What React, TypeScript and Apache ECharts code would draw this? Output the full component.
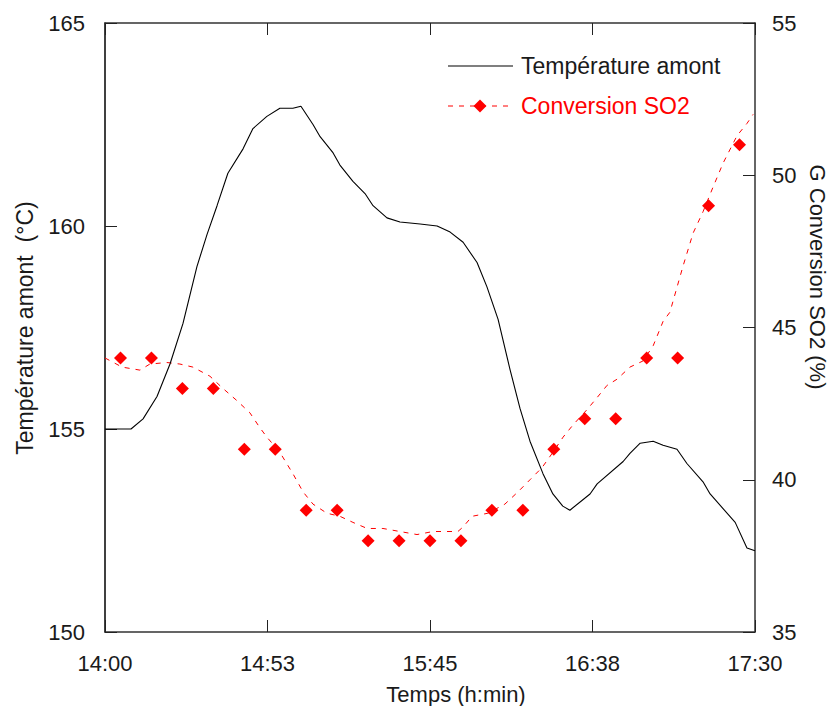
import React, { useEffect, useRef } from "react";
import * as echarts from "echarts";

// X axis: minutes after 14:00
const xMin = 0;
const xMax = 210;
const xInterval = 52.5;
const xStartHour = 14;

// Température amont (°C), left axis
const tempTime = [0, 8.4, 12.3, 16.8, 21.0, 25.2, 29.7, 33.0, 36.2, 39.7, 44.6, 47.8, 52.3, 56.5, 60.7, 63.3, 67.2, 69.5, 73.7, 75.9, 80.1, 84.0, 86.6, 91.1, 95.3, 101.8, 107.3, 111.5, 115.7, 120.2, 123.4, 127.0, 130.9, 134.1, 137.3, 141.5, 144.7, 147.9, 150.2, 156.7, 159.0, 167.4, 169.6, 172.9, 177.1, 180.3, 184.8, 188.0, 193.2, 195.5, 203.6, 207.4, 210];
const tempValue = [155.0, 155.0, 155.25, 155.8, 156.6, 157.6, 159.0, 159.8, 160.5, 161.3, 161.9, 162.4, 162.7, 162.9, 162.9, 162.95, 162.5, 162.2, 161.8, 161.5, 161.1, 160.8, 160.5, 160.2, 160.1, 160.05, 160.0, 159.85, 159.6, 159.1, 158.5, 157.7, 156.45, 155.5, 154.7, 153.9, 153.4, 153.1, 153.0, 153.4, 153.65, 154.2, 154.4, 154.65, 154.7, 154.6, 154.5, 154.15, 153.7, 153.4, 152.7, 152.07, 152.0];

// Conversion SO2 (%) smoothed curve, right axis
const convCurveTime = [0, 5.5, 11.3, 14.5, 20.0, 24.2, 28.4, 33.9, 38.1, 42.6, 46.8, 50.1, 52.3, 56.5, 60.7, 64.0, 67.2, 71.7, 75.9, 80.1, 84.7, 89.8, 95.3, 100.8, 106.0, 110.5, 114.0, 115.7, 118.6, 123.7, 129.2, 133.4, 137.3, 141.2, 144.7, 148.0, 151.2, 155.7, 159.0, 162.2, 165.4, 169.6, 173.8, 177.1, 180.3, 182.5, 186.7, 190.0, 193.2, 196.4, 199.7, 204.2, 207.4, 209.4];
const convCurveValue = [44.0, 43.7, 43.6, 43.8, 43.85, 43.8, 43.7, 43.4, 43.0, 42.6, 42.2, 41.7, 41.4, 40.9, 40.2, 39.6, 39.2, 38.9, 38.8, 38.6, 38.4, 38.4, 38.3, 38.2, 38.3, 38.3, 38.3, 38.45, 38.8, 38.9, 39.2, 39.6, 40.0, 40.4, 40.9, 41.4, 41.8, 42.3, 42.7, 43.1, 43.3, 43.7, 43.9, 44.4, 45.2, 45.5, 47.0, 48.1, 48.8, 49.6, 50.4, 51.3, 51.7, 52.0];

// Conversion SO2 (%) measured points
const convPointTime = [5, 15, 25, 35, 45, 55, 65, 75, 85, 95, 105, 115, 125, 135, 145, 155, 165, 175, 185, 195, 205];
const convPointValue = [44, 44, 43, 43, 41, 41, 39, 39, 38, 38, 38, 38, 39, 39, 41, 42, 42, 44, 44, 49, 51];

const FONT = "'Liberation Sans', Arial, sans-serif";
const TXT = "#1a1a1a";

function fmtTime(v: number): string {
  const m = Math.round(v);
  const h = xStartHour + Math.floor(m / 60);
  const mm = m % 60;
  return `${h}:${mm < 10 ? "0" + mm : mm}`;
}

export default function App() {
  const ref = useRef<HTMLDivElement>(null);
  useEffect(() => {
    if (!ref.current) return;
    const chart = echarts.init(ref.current, undefined, { renderer: "svg" });
    const axisLine = { show: true, onZero: false, lineStyle: { color: "#333", width: 1.5 } };
    const tick = { show: true, inside: true, length: 12, lineStyle: { color: "#222", width: 1 } };
    const label = { fontSize: 22, color: TXT, fontFamily: FONT, margin: 20 };
    chart.setOption({
      animation: false,
      backgroundColor: "#fff",
      grid: { left: 105, right: 79, top: 23, bottom: 74, containLabel: false },
      xAxis: [
        {
          type: "value", min: xMin, max: xMax, interval: xInterval, position: "bottom",
          axisLine, axisTick: tick, splitLine: { show: false },
          axisLabel: { ...label, formatter: (v: number) => fmtTime(v) },
        },
        {
          type: "value", min: xMin, max: xMax, interval: xInterval, position: "top",
          axisLine, axisTick: tick, splitLine: { show: false }, axisLabel: { show: false },
        },
      ],
      yAxis: [
        {
          type: "value", min: 150, max: 165, interval: 5, position: "left",
          axisLine: { ...axisLine, lineStyle: { color: "#000", width: 1.5 } }, axisTick: tick,
          splitLine: { show: false }, axisLabel: label,
        },
        {
          type: "value", min: 35, max: 55, interval: 5, position: "right",
          axisLine, axisTick: tick, splitLine: { show: false }, axisLabel: { ...label, margin: 17 },
        },
      ],
      series: [
        {
          name: "Température amont", type: "line", xAxisIndex: 0, yAxisIndex: 0,
          data: tempTime.map((t, i) => [t, tempValue[i]]),
          symbol: "none", lineStyle: { color: "#000", width: 1.1 }, z: 3,
        },
        {
          name: "Conversion SO2 courbe", type: "line", xAxisIndex: 0, yAxisIndex: 1,
          data: convCurveTime.map((t, i) => [t, convCurveValue[i]]),
          symbol: "none", lineStyle: { color: "#ff0000", width: 1, type: [5, 6] }, z: 2,
        },
        {
          name: "Conversion SO2", type: "scatter", xAxisIndex: 0, yAxisIndex: 1,
          data: convPointTime.map((t, i) => [t, convPointValue[i]]),
          symbol: "diamond", symbolSize: 13, itemStyle: { color: "#ff0000", opacity: 1 }, z: 4,
        },
      ],
      graphic: [
        { type: "line", shape: { x1: 448, y1: 66, x2: 513, y2: 66 }, style: { stroke: "#000", lineWidth: 1.2 } },
        { type: "text", x: 521, y: 66, style: { text: "Température amont", fill: TXT, font: `23px ${FONT}`, verticalAlign: "middle" } },
        { type: "line", shape: { x1: 448, y1: 106, x2: 513, y2: 106 }, style: { stroke: "#ff0000", lineWidth: 1, lineDash: [5, 6] } },
        { type: "polygon", shape: { points: [[480, 99.5], [486.5, 106], [480, 112.5], [473.5, 106]] }, style: { fill: "#ff0000" } },
        { type: "text", x: 521, y: 106, style: { text: "Conversion SO2", fill: "#ff0000", font: `23px ${FONT}`, verticalAlign: "middle" } },
        { type: "text", x: 456, y: 694, style: { text: "Temps (h:min)", fill: TXT, font: `22px ${FONT}`, align: "center", verticalAlign: "middle" } },
        { type: "text", x: 25, y: 328, rotation: Math.PI / 2, style: { text: "Température amont  (°C)", fill: TXT, font: `23px ${FONT}`, align: "center", verticalAlign: "middle" } },
        { type: "text", x: 817, y: 277, rotation: -Math.PI / 2, style: { text: "G Conversion SO2 (%)", fill: TXT, font: `22px ${FONT}`, align: "center", verticalAlign: "middle" } },
      ],
    });
    return () => chart.dispose();
  }, []);
  return <div ref={ref} style={{ position: "fixed", left: 0, top: 0, width: 834, height: 706, background: "#fff" }} />;
}
